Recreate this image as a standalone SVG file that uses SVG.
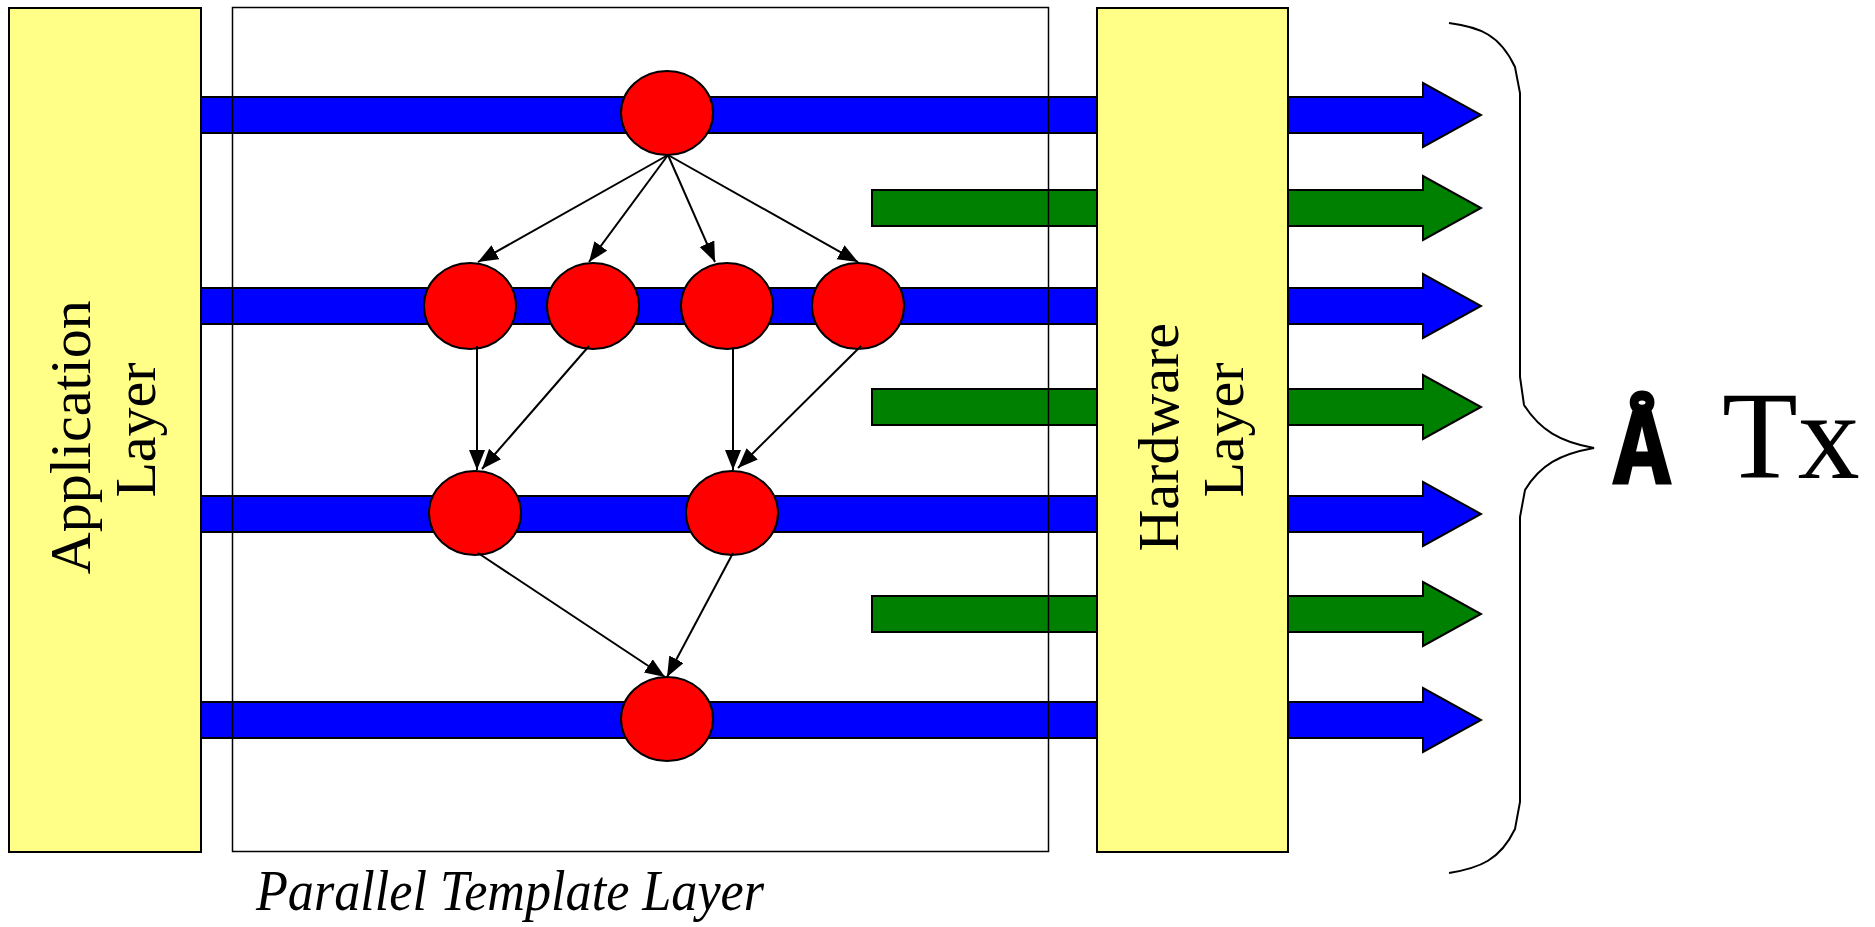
<svg xmlns="http://www.w3.org/2000/svg" width="1875" height="927" viewBox="0 0 1875 927">
  <style>
    .layer { fill: #FFFF88; stroke: #000; stroke-width: 2; }
    .frame { fill: none; stroke: #000; stroke-width: 1.5; }
    .bus { fill: #0000FF; stroke: #000; stroke-width: 2; stroke-linejoin: miter; }
    .hw { fill: #008000; stroke: #000; stroke-width: 2; stroke-linejoin: miter; }
    .task { fill: #FF0000; stroke: #000; stroke-width: 2; }
    .dep { stroke: #000; stroke-width: 2; fill: none; marker-end: url(#head); }
    .lbl { font-family: "Liberation Serif", "Times New Roman", serif; font-size: 58px; fill: #000; }
    .cap { font-family: "Liberation Serif", "Times New Roman", serif; font-size: 56px; font-style: italic; fill: #000; }
  </style>
  <defs>
    <marker id="head" markerUnits="userSpaceOnUse" markerWidth="22" markerHeight="18" refX="20" refY="8" orient="auto">
      <path d="M0,0 L20,8 L0,16 Z" fill="#000"/>
    </marker>
    <!-- wide block arrow shape, drawn per row with a vertical offset -->
    <path id="busArrow" d="M190,-18 H1423 V-32 L1481,0 L1423,32 V18 H190 Z"/>
    <path id="hwArrow" d="M872,-18 H1423 V-32 L1481,0 L1423,32 V18 H872 Z"/>
  </defs>

  <rect width="1875" height="927" fill="#fff"/>

  <!-- thread buses and hardware streams -->
  <g id="buses">
    <use href="#busArrow" class="bus" transform="translate(0,115)"/>
    <use href="#hwArrow" class="hw" transform="translate(0,208)"/>
    <use href="#busArrow" class="bus" transform="translate(0,306)"/>
    <use href="#hwArrow" class="hw" transform="translate(0,407)"/>
    <use href="#busArrow" class="bus" transform="translate(0,514)"/>
    <use href="#hwArrow" class="hw" transform="translate(0,614)"/>
    <use href="#busArrow" class="bus" transform="translate(0,720)"/>
  </g>

  <!-- parallel template frame -->
  <g id="parallel-template">
    <rect class="frame" x="232.5" y="7.5" width="816" height="844"/>
    <text class="cap" x="256" y="910" textLength="508" lengthAdjust="spacingAndGlyphs">Parallel Template Layer</text>
  </g>

  <g id="application-layer">
    <rect class="layer" x="9" y="8" width="192" height="844"/>
    <text class="lbl" transform="translate(105,430) rotate(-90)" text-anchor="middle">
      <tspan x="0" y="-15">Application</tspan>
      <tspan x="0" y="50">Layer</tspan>
    </text>
  </g>

  <g id="hardware-layer">
    <rect class="layer" x="1097" y="8" width="191" height="844"/>
    <text class="lbl" transform="translate(1192.5,430) rotate(-90)" text-anchor="middle">
      <tspan x="0" y="-14.5">Hardware</tspan>
      <tspan x="0" y="50.5">Layer</tspan>
    </text>
  </g>

  <!-- task graph nodes -->
  <g id="t0"><ellipse class="task" cx="667" cy="113" rx="46" ry="42"/></g>
  <g id="t1"><ellipse class="task" cx="470" cy="306" rx="46" ry="43"/></g>
  <g id="t2"><ellipse class="task" cx="593" cy="306" rx="46" ry="43"/></g>
  <g id="t3"><ellipse class="task" cx="727" cy="306" rx="46" ry="43"/></g>
  <g id="t4"><ellipse class="task" cx="858" cy="306" rx="46" ry="43"/></g>
  <g id="t5"><ellipse class="task" cx="475" cy="513" rx="46" ry="42"/></g>
  <g id="t6"><ellipse class="task" cx="732" cy="513" rx="46" ry="42"/></g>
  <g id="t7"><ellipse class="task" cx="667" cy="719" rx="46" ry="42"/></g>

  <!-- dependencies -->
  <g id="connectors">
    <line class="dep" x1="668" y1="155" x2="478" y2="262"/>
    <line class="dep" x1="668" y1="155" x2="589" y2="262"/>
    <line class="dep" x1="668" y1="155" x2="715" y2="262"/>
    <line class="dep" x1="668" y1="155" x2="858" y2="262"/>
    <line class="dep" x1="477" y1="346" x2="477" y2="470"/>
    <line class="dep" x1="589" y1="346" x2="482" y2="469"/>
    <line class="dep" x1="733" y1="347" x2="733" y2="470"/>
    <line class="dep" x1="861" y1="346" x2="738" y2="468"/>
    <line class="dep" x1="478" y1="553" x2="665" y2="677"/>
    <line class="dep" x1="733" y1="553" x2="667" y2="677"/>
  </g>

  <!-- brace and sum -->
  <g id="sum">
    <path d="M1449,23 C1480,27 1500,35 1515,67 L1520,93 V377 L1524,405 C1540,430 1560,442 1594,448 C1560,454 1540,465 1525,490 L1520,517 V802 L1515,829 C1500,860 1480,868 1449,873" fill="none" stroke="#000" stroke-width="2"/>
    <text transform="translate(1642,483) scale(0.84,1)" text-anchor="middle" font-family="'Liberation Mono', 'Courier New', monospace" font-weight="bold" font-size="112" stroke="#000" stroke-width="3">Å</text>
    <text x="1722" y="478" font-family="'Liberation Serif', 'Times New Roman', serif" font-size="124">Tx</text>
  </g>
</svg>
